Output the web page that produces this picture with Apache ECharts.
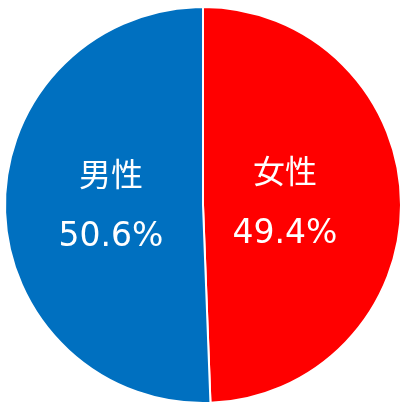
<!DOCTYPE html>
<html>
<head>
<meta charset="utf-8">
<script src="https://cdn.jsdelivr.net/npm/echarts@6/dist/echarts.min.js"></script>
<style>
  html, body { margin: 0; padding: 0; background: #fff; }
  #chart { width: 410px; height: 410px; }
</style>
</head>
<body>
<div id="chart"></div>
<script>
// data
const categories = ["女性", "男性"];
const shares = [49.4, 50.6];
const colors = ["#FF0000", "#0070C0"];

const chart = echarts.init(document.getElementById("chart"));

const sliceData = categories.map((name, i) => ({
    name: name,
    value: shares[i],
    itemStyle: { color: colors[i] },
}));

const options = {
    animation: false,
    series: [
        {
            // the slices
            type: "pie",
            center: [203, 205],
            radius: [0, 198],
            startAngle: 90,
            clockwise: true,
            silent: true,
            itemStyle: { borderColor: "#fff", borderWidth: 2 },
            label: { show: false },
            labelLine: { show: false },
            data: sliceData,
        },
        {
            // transparent ring used only to place the labels
            type: "pie",
            center: [198, 204],
            radius: [0, 168],
            startAngle: 90,
            clockwise: true,
            silent: true,
            itemStyle: { color: "transparent" },
            label: {
                show: true,
                position: "inside",
                formatter: (p) => "{n|" + p.name + "}\n{v|" + p.value.toFixed(1) + "%}",
                rich: {
                    n: {
                        color: "#fff",
                        fontSize: 32,
                        lineHeight: 64,
                        fontFamily: "'Noto Sans CJK JP', sans-serif",
                    },
                    v: {
                        color: "#fff",
                        fontSize: 33,
                        lineHeight: 64,
                        fontFamily: "'DejaVu Sans', sans-serif",
                    },
                },
            },
            labelLine: { show: false },
            data: sliceData.map((d) => ({ name: d.name, value: d.value })),
        },
    ],
};

chart.setOption(options);
window.addEventListener("resize", () => {
    chart.resize();
});
</script>
</body>
</html>
